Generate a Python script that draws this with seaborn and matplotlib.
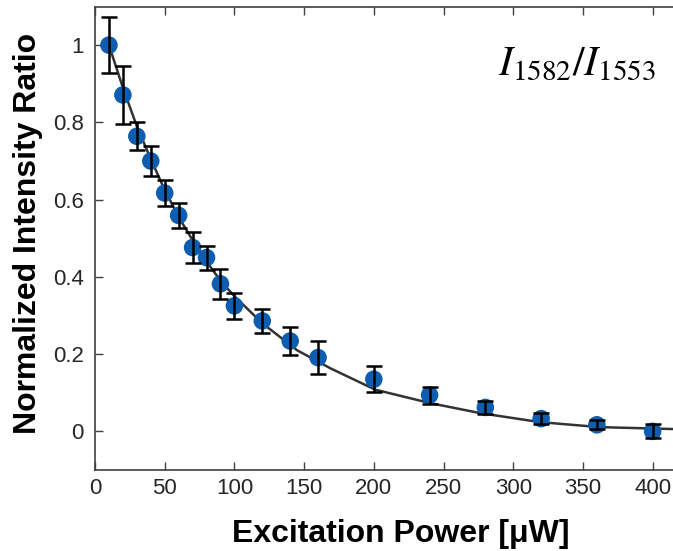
import matplotlib
matplotlib.use("Agg")
import matplotlib.pyplot as plt
import seaborn as sns
import pandas as pd

# ---- data ----
power = [10, 20, 30, 40, 50, 60, 70, 80, 90, 100, 120, 140, 160, 200, 240, 280, 320, 360, 400]
ratio = [1.0, 0.871, 0.764, 0.700, 0.617, 0.559, 0.476, 0.450, 0.382, 0.325, 0.286, 0.234,
         0.191, 0.135, 0.094, 0.062, 0.033, 0.017, 0.0]
ratio_err = [0.073, 0.074, 0.036, 0.038, 0.033, 0.033, 0.040, 0.031, 0.039, 0.033, 0.031,
             0.037, 0.042, 0.033, 0.022, 0.017, 0.015, 0.012, 0.018]

# fitted curve
fit_x = [10, 20, 30, 40, 50, 60, 70, 80, 90, 100, 120, 145, 169, 201, 240, 276, 319, 362, 415]
fit_y = [1.0, 0.89, 0.79, 0.705, 0.625, 0.555, 0.495, 0.44, 0.39, 0.35, 0.28, 0.21, 0.163,
         0.108, 0.0735, 0.0475, 0.024, 0.011, 0.006]

x_ticks = [0, 50, 100, 150, 200, 250, 300, 350, 400]
y_ticks = [0, 0.2, 0.4, 0.6, 0.8, 1]
y_tick_labels = ["0", "0.2", "0.4", "0.6", "0.8", "1"]

sns.set_theme(style="ticks")
plt.rcParams["font.family"] = ["Liberation Sans", "DejaVu Sans"]
plt.rcParams["mathtext.fontset"] = "stix"

fig = plt.figure(figsize=(6.73, 5.51), dpi=100)
ax = fig.add_axes([95 / 673, 1 - 470 / 551, 1 - 95 / 673, (470 - 6.5) / 551])

df_pts = pd.DataFrame({"power": power, "ratio": ratio})
df_fit = pd.DataFrame({"x": fit_x, "y": fit_y})

sns.lineplot(data=df_fit, x="x", y="y", ax=ax, color="#333333", linewidth=1.8,
             sort=False, estimator=None, zorder=1)
sns.scatterplot(data=df_pts, x="power", y="ratio", ax=ax, color="#0f5db0", s=160,
                edgecolor="none", linewidth=0, zorder=2)
ax.errorbar(power, ratio, yerr=ratio_err, fmt="none", ecolor="black", elinewidth=1.8,
            capsize=5.5, capthick=1.8, zorder=3)

ax.set_xlim(0, 414.6)
ax.set_ylim(-0.1, 1.1)
ax.set_xticks(x_ticks)
ax.set_yticks(y_ticks)
ax.set_yticklabels(y_tick_labels)

ax.tick_params(axis="both", direction="in", length=6, width=1.0, colors="#404040",
               labelcolor="#262626", labelsize=16)
ax.tick_params(axis="x", top=True, pad=6)
ax.tick_params(axis="y", pad=8)

for side in ["left", "bottom", "top"]:
    ax.spines[side].set_color("#404040")
    ax.spines[side].set_linewidth(1.2)
ax.spines["right"].set_visible(False)

ax.set_xlabel("Excitation Power [μW]", fontsize=23, fontweight="bold", color="black")
ax.xaxis.label.set_va("baseline")
ax.xaxis.set_label_coords(0.529, (470 - 542) / 463.5)

ax.set_ylabel("Normalized Intensity Ratio", fontsize=23, fontweight="bold", color="black")
ax.yaxis.label.set_va("center")
ax.yaxis.set_label_coords((28 - 95) / 578, (470 - 233.5) / 463.5)

ax.text(0.97, (470 - 75) / 463.5, r"$I_{1582}/I_{1553}$", transform=ax.transAxes, ha="right",
        va="baseline", fontsize=30, color="black")

fig.savefig("out.png", dpi=100)
